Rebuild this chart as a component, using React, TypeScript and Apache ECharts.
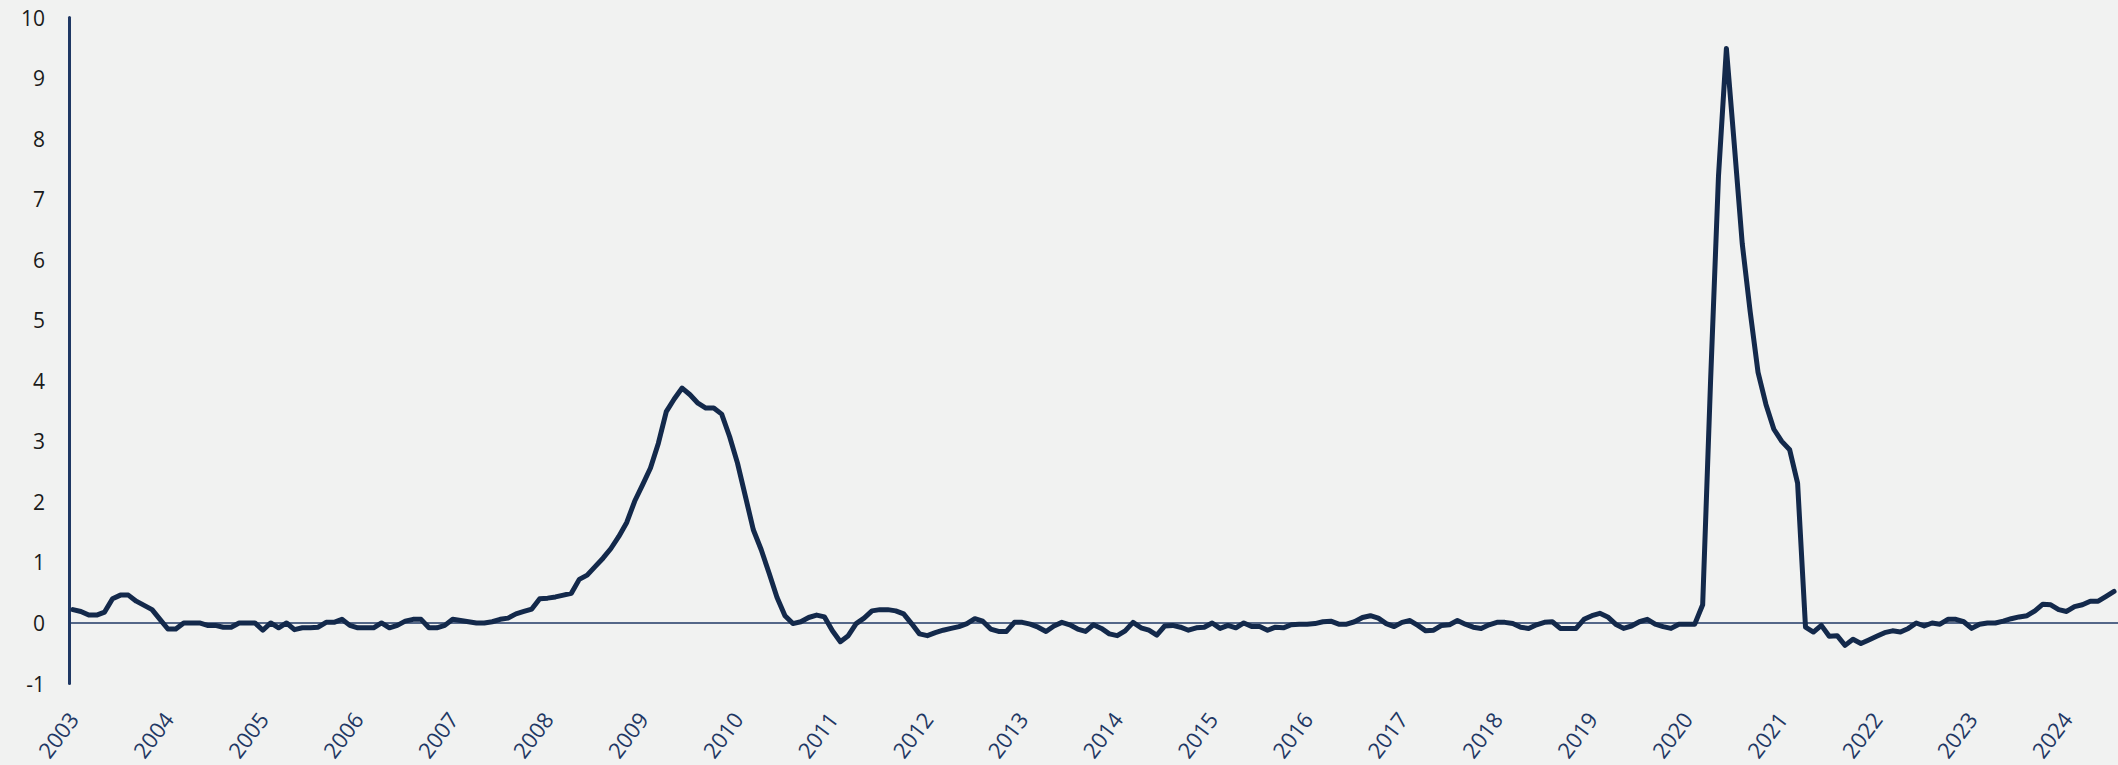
import React, { useEffect, useRef } from "react";
import * as echarts from "echarts";

// Year tick labels (one label per January)
const years: string[] = [
  "2003", "2004", "2005", "2006", "2007", "2008", "2009", "2010", "2011", "2012", "2013",
  "2014", "2015", "2016", "2017", "2018", "2019", "2020", "2021", "2022", "2023", "2024",
];
const monthCodes: string[] = ["01", "02", "03", "04", "05", "06", "07", "08", "09", "10", "11", "12"];

// Monthly values, Jan 2003 – Jul 2024
const values2003_2006: number[] = [
  0.22, 0.19, 0.13, 0.13, 0.18, 0.40, 0.46, 0.46, 0.36, 0.29, 0.22, 0.06,
  -0.10, -0.10, 0.00, 0.00, 0.00, -0.04, -0.04, -0.07, -0.07, 0.00, 0.00, 0.00,
  -0.12, 0.00, -0.08, 0.00, -0.11, -0.08, -0.08, -0.07, 0.01, 0.01, 0.06, -0.04,
  -0.08, -0.08, -0.08, 0.00, -0.08, -0.04, 0.03, 0.06, 0.06, -0.08, -0.08, -0.04,
];
const values2007_2010: number[] = [
  0.06, 0.04, 0.02, 0.00, 0.00, 0.02, 0.06, 0.08, 0.15, 0.19, 0.23, 0.40,
  0.41, 0.43, 0.46, 0.49, 0.72, 0.79, 0.93, 1.07, 1.23, 1.43, 1.66, 2.01,
  2.28, 2.56, 2.97, 3.49, 3.70, 3.88, 3.77, 3.63, 3.55, 3.55, 3.45, 3.08,
  2.64, 2.09, 1.54, 1.21, 0.82, 0.42, 0.12, -0.01, 0.02, 0.09, 0.13, 0.10,
];
const values2011_2014: number[] = [
  -0.13, -0.31, -0.21, -0.01, 0.08, 0.20, 0.22, 0.22, 0.20, 0.15, -0.01, -0.18,
  -0.21, -0.16, -0.12, -0.09, -0.06, -0.01, 0.07, 0.03, -0.10, -0.14, -0.14, 0.01,
  0.01, -0.02, -0.07, -0.14, -0.05, 0.01, -0.03, -0.10, -0.14, -0.03, -0.09, -0.18,
  -0.21, -0.13, 0.01, -0.08, -0.12, -0.20, -0.05, -0.04, -0.07, -0.12, -0.08, -0.07,
];
const values2015_2018: number[] = [
  0.00, -0.09, -0.04, -0.08, 0.00, -0.06, -0.06, -0.12, -0.07, -0.08, -0.03, -0.02,
  -0.02, -0.01, 0.02, 0.03, -0.02, -0.02, 0.02, 0.09, 0.12, 0.08, -0.01, -0.06,
  0.01, 0.04, -0.04, -0.13, -0.12, -0.04, -0.03, 0.04, -0.02, -0.07, -0.09, -0.03,
  0.01, 0.01, -0.01, -0.07, -0.09, -0.03, 0.01, 0.02, -0.09, -0.09, -0.09, 0.06,
];
const values2019_2022: number[] = [
  0.12, 0.16, 0.10, -0.02, -0.09, -0.05, 0.02, 0.06, -0.02, -0.06, -0.09, -0.02,
  -0.02, -0.02, 0.30, 4.00, 7.38, 9.49, 7.90, 6.27, 5.15, 4.14, 3.61, 3.20,
  3.00, 2.86, 2.31, -0.07, -0.15, -0.04, -0.22, -0.21, -0.37, -0.27, -0.34, -0.28,
  -0.22, -0.16, -0.13, -0.15, -0.09, 0.00, -0.05, 0.00, -0.02, 0.06, 0.06, 0.02,
];
const values2023_2024: number[] = [
  -0.09, -0.02, 0.00, 0.00, 0.03, 0.07, 0.10, 0.12, 0.20, 0.31, 0.30, 0.22,
  0.19, 0.27, 0.30, 0.36, 0.36, 0.44, 0.52,
];

const values: number[] = [
  ...values2003_2006,
  ...values2007_2010,
  ...values2011_2014,
  ...values2015_2018,
  ...values2019_2022,
  ...values2023_2024,
];

const categories: string[] = [];
for (const y of years) {
  for (const m of monthCodes) {
    if (categories.length < values.length) categories.push(`${y}-${m}`);
  }
}

const yTicks = { min: -1, max: 10, interval: 1 };

const LINE = "#13294b";
const AXIS = "#1f3864";
const BG = "#f1f2f1";
const FONT = "'Open Sans', 'Noto Sans', sans-serif";

export default function App() {
  const ref = useRef<HTMLDivElement>(null);

  useEffect(() => {
    if (!ref.current) return;
    const chart = echarts.init(ref.current, null, { renderer: "svg" });
    const nSplit = (yTicks.max - yTicks.min) / yTicks.interval + 1;
    const splitColors: string[] = [];
    for (let k = 0; k < nSplit; k++) {
      splitColors.push(yTicks.min + k * yTicks.interval === 0 ? AXIS : "rgba(0,0,0,0)");
    }
    chart.setOption({
      animation: false,
      backgroundColor: BG,
      grid: { left: 69, top: 17.6, bottom: 81.5, width: 2050.5, containLabel: false },
      xAxis: {
        type: "category",
        data: categories,
        boundaryGap: true,
        axisLine: { show: false },
        axisTick: { show: false },
        splitLine: { show: false },
        axisLabel: {
          interval: (index: number) => index % 12 === 0,
          formatter: (v: string) => v.slice(0, 4),
          rotate: 53,
          margin: 31,
          color: AXIS,
          fontSize: 22,
          fontFamily: FONT,
        },
      },
      yAxis: {
        type: "value",
        min: yTicks.min,
        max: yTicks.max,
        interval: yTicks.interval,
        axisLine: { show: true, lineStyle: { color: AXIS, width: 3 } },
        axisTick: { show: false },
        splitLine: { show: true, lineStyle: { color: splitColors, width: 1.5 } },
        axisLabel: {
          color: "#1a1a1a",
          fontSize: 21,
          margin: 24,
          fontFamily: FONT,
        },
      },
      series: [
        {
          type: "line",
          data: values,
          symbol: "none",
          lineStyle: { color: LINE, width: 5, join: "round", cap: "round" },
          itemStyle: { color: LINE },
          z: 3,
        },
      ],
    });
    return () => chart.dispose();
  }, []);

  return (
    <div
      ref={ref}
      style={{ position: "absolute", left: 0, top: 0, width: 2118, height: 765, background: BG }}
    />
  );
}
